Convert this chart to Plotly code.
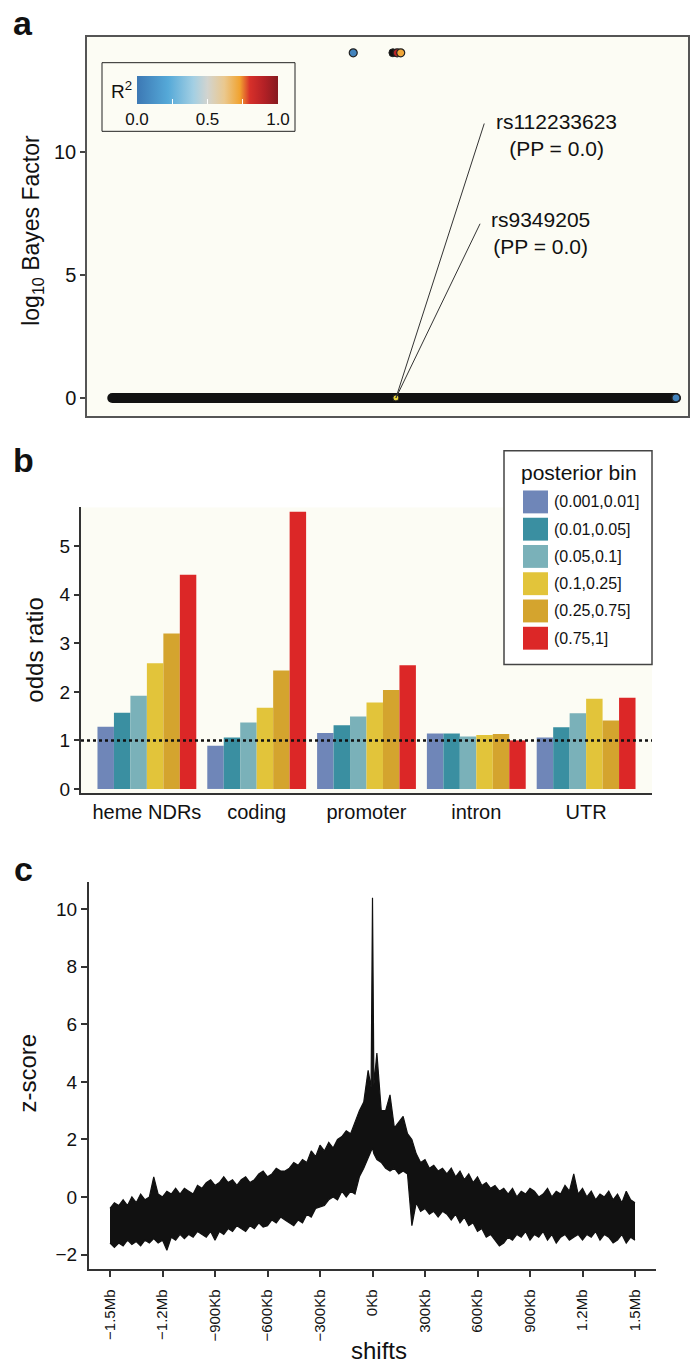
import plotly.graph_objects as go

W, H = 691, 1369
FONT = "Liberation Sans, Arial, Helvetica, sans-serif"
INK = "#111111"
CREAM = "#FCFCF4"

# ---------------- panel a: fine-mapping Bayes factors ----------------
snp_pos = [44.3, 51.6, 52.2, 98.0]
snp_log10_bf = [14.05, 14.05, 14.05, 0.0]
snp_r2 = [0.05, 0.88, 0.72, 0.05]
na_pos = [50.9]
na_log10_bf = [14.05]
background_span = [4.2, 98.0]
background_log10_bf = [0.0, 0.0]
index_pos = 51.4
index_log10_bf = 0.0
label_snps = ["rs112233623", "rs9349205"]
label_pp = [0.0, 0.0]

r2_scale = [[0.0, "#3C78B4"], [0.22, "#55A9D8"], [0.4, "#A3CFE3"],
            [0.5, "#D2D4CF"], [0.62, "#EAC88E"], [0.73, "#F1A330"],
            [0.8, "#D7302A"], [0.9, "#B42126"], [1.0, "#861A20"]]

# ---------------- panel b: enrichment odds ratios ----------------
categories = ["heme NDRs", "coding", "promoter", "intron", "UTR"]
bin_labels = ["(0.001,0.01]", "(0.01,0.05]", "(0.05,0.1]",
              "(0.1,0.25]", "(0.25,0.75]", "(0.75,1]"]
bin_colors = ["#6F86B8", "#3A8FA1", "#7AB1B9", "#E2C43A", "#D4A42E", "#DC2727"]
or_bin1 = [1.28, 0.89, 1.15, 1.14, 1.06]
or_bin2 = [1.57, 1.06, 1.31, 1.14, 1.27]
or_bin3 = [1.92, 1.37, 1.49, 1.08, 1.56]
or_bin4 = [2.59, 1.67, 1.78, 1.11, 1.86]
or_bin5 = [3.20, 2.44, 2.04, 1.13, 1.41]
or_bin6 = [4.41, 5.71, 2.55, 1.00, 1.88]
odds_by_bin = [or_bin1, or_bin2, or_bin3, or_bin4, or_bin5, or_bin6]
reference_odds = 1.0

# ---------------- panel c: z-score of shifted overlaps ----------------
# shift grid (kb): 25 kb steps, with extra samples right around the origin
shift_kb = list(range(-1500, 0, 25)) + [-8, 0, 8] + list(range(25, 1501, 25))
z_low = [
    -1.6, -1.75, -1.6, -1.7, -1.5, -1.65, -1.55, -1.7, -1.5, -1.6,
    -1.45, -1.6, -1.5, -1.85, -1.4, -1.5, -1.3, -1.45, -1.3, -1.4,
    -1.2, -1.3, -1.4, -1.2, -1.5, -1.2, -1.3, -1.1, -1.2, -1.0,
    -1.1, -1.2, -1.0, -1.1, -0.9, -1.05, -1.0, -0.8, -0.9, -0.7,
    -0.8, -0.9, -1.0, -0.8, -0.9, -0.6, -0.7, -0.4, -0.35, -0.3,
    -0.1, 0.0, -0.1, 0.2, 0.0, 0.2, 0.1, 0.7, 1.0, 1.4,
    1.6, 1.7, 1.5,
    1.3, 1.2, 1.0, 0.9, 1.0, 0.8, 0.9, 0.8, -1.0, -0.2,
    -0.5, -0.4, -0.6, -0.5, -0.7, -0.5, -0.6, -0.8, -0.6, -0.9,
    -0.7, -1.0, -0.9, -1.2, -1.1, -1.4, -1.3, -1.5, -1.7, -1.6,
    -1.4, -1.5, -1.3, -1.4, -1.2, -1.5, -1.3, -1.4, -1.2, -1.5,
    -1.3, -1.6, -1.4, -1.3, -1.5, -1.4, -1.3, -1.5, -1.3, -1.4,
    -1.2, -1.5, -1.3, -1.4, -1.6, -1.5, -1.3, -1.6, -1.4, -1.5,
]
z_high = [
    -0.4, -0.2, -0.3, -0.1, -0.3, 0.0, -0.2, 0.1, -0.1, 0.0,
    0.7, 0.1, 0.0, 0.2, 0.1, 0.3, 0.1, 0.3, 0.2, 0.1,
    0.4, 0.3, 0.5, 0.6, 0.4, 0.5, 0.7, 0.5, 0.6, 0.4,
    0.6, 0.7, 0.5, 0.6, 0.8, 0.9, 0.7, 0.8, 1.0, 0.9,
    0.9, 1.0, 1.2, 1.1, 1.3, 1.2, 1.6, 1.4, 1.8, 1.6,
    1.9, 1.7, 2.0, 2.1, 2.3, 2.2, 2.6, 3.0, 3.3, 4.4,
    3.8, 10.4, 3.9,
    5.0, 3.0, 3.0, 3.55, 2.4, 2.6, 2.8, 2.2, 2.0, 1.5,
    1.2, 1.3, 1.0, 1.1, 0.9, 1.0, 0.8, 1.0, 0.7, 0.9,
    0.6, 0.8, 0.5, 0.7, 0.4, 0.5, 0.3, 0.4, 0.2, 0.3,
    0.1, 0.3, 0.0, 0.2, 0.1, 0.3, 0.2, 0.0, 0.1, 0.3,
    0.0, 0.2, 0.1, 0.4, 0.2, 0.8, 0.1, 0.3, 0.0, 0.2,
    -0.1, 0.1, 0.0, 0.2, -0.1, 0.1, -0.2, 0.2, -0.1, -0.2,
]
shift_ticks = [-1500, -1200, -900, -600, -300, 0, 300, 600, 900, 1200, 1500]
shift_tick_text = ["\u22121.5Mb", "\u22121.2Mb", "\u2212900Kb", "\u2212600Kb",
                   "\u2212300Kb", "0Kb", "300Kb", "600Kb", "900Kb",
                   "1.2Mb", "1.5Mb"]


def px(x):
    return x / W


def py(y):
    return 1 - y / H


def text_note(text, x, y, size, angle=0, xanchor="center", bold=False):
    return dict(text=f"<b>{text}</b>" if bold else text, x=px(x), y=py(y),
                xref="paper", yref="paper", xanchor=xanchor, yanchor="middle",
                textangle=angle, showarrow=False,
                font=dict(size=size, color=INK, family=FONT))


fig = go.Figure()

# panel a traces
fig.add_trace(go.Scatter(
    x=background_span, y=background_log10_bf, mode="lines+markers",
    line=dict(color=INK, width=10), marker=dict(color=INK, size=10),
    xaxis="x", yaxis="y", hoverinfo="skip", showlegend=False))
fig.add_trace(go.Scatter(
    x=na_pos, y=na_log10_bf, mode="markers",
    marker=dict(color=INK, size=8, line=dict(color="#222", width=1)),
    xaxis="x", yaxis="y", showlegend=False))
fig.add_trace(go.Scatter(
    x=snp_pos, y=snp_log10_bf, mode="markers",
    marker=dict(color=snp_r2, coloraxis="coloraxis", size=8,
                line=dict(color="#222", width=1.2)),
    xaxis="x", yaxis="y", showlegend=False))
fig.add_trace(go.Scatter(
    x=[index_pos], y=[index_log10_bf], mode="markers",
    marker=dict(color="#E8D43A", size=6, line=dict(color="#222", width=1)),
    xaxis="x", yaxis="y", showlegend=False))

# panel b bars
for name, color, vals in zip(bin_labels, bin_colors, odds_by_bin):
    fig.add_trace(go.Bar(
        x=categories, y=vals, name=name, marker=dict(color=color, line=dict(width=0)),
        xaxis="x2", yaxis="y2", showlegend=False))

# panel c: band between the low and high z-score traces
fig.add_trace(go.Scatter(
    x=shift_kb, y=z_low, mode="lines", line=dict(color=INK, width=1.2),
    xaxis="x3", yaxis="y3", showlegend=False, hoverinfo="skip"))
fig.add_trace(go.Scatter(
    x=shift_kb, y=z_high, mode="lines", line=dict(color=INK, width=1.2),
    fill="tonexty", fillcolor=INK,
    xaxis="x3", yaxis="y3", showlegend=False, hoverinfo="skip"))

shapes = []
annotations = []

# panel backgrounds
shapes.append(dict(type="rect", xref="x domain", yref="y domain", x0=0, x1=1, y0=0, y1=1,
                   fillcolor=CREAM, line=dict(width=0), layer="below"))
shapes.append(dict(type="rect", xref="x2 domain", yref="y2 domain", x0=0, x1=1, y0=0, y1=1,
                   fillcolor=CREAM, line=dict(width=0), layer="below"))

# panel a: R² key box
shapes.append(dict(type="rect", xref="paper", yref="paper",
                   x0=px(102), x1=px(295), y0=py(132), y1=py(63),
                   fillcolor=CREAM, line=dict(color="#222", width=1), layer="above"))
annotations.append(text_note("R<sup>2</sup>", 121, 90, 19))

# panel a: SNP labels with leader lines
label_anchor = [(66.1, 11.17), (65.4, 7.09)]
label_text_pos = [(78.2, 10.69), (75.4, 6.72)]
for snp, pp, (ax_, ay_), (tx, ty) in zip(label_snps, label_pp, label_anchor, label_text_pos):
    shapes.append(dict(type="line", xref="x", yref="y", x0=index_pos, y0=index_log10_bf,
                       x1=ax_, y1=ay_, line=dict(color="#333", width=1)))
    annotations.append(dict(text=f"{snp}<br>(PP = {pp:.1f})", x=tx, y=ty, xref="x", yref="y",
                            xanchor="center", yanchor="middle",
                            showarrow=False, align="center",
                            font=dict(size=21, color=INK, family=FONT)))

# panel b: dotted reference line
shapes.append(dict(type="line", xref="x2 domain", yref="y2", x0=0, x1=1,
                   y0=reference_odds, y1=reference_odds,
                   line=dict(color=INK, width=2.5, dash="dot"), layer="above"))

# panel b: legend
shapes.append(dict(type="rect", xref="paper", yref="paper",
                   x0=px(504), x1=px(652), y0=py(668), y1=py(453),
                   fillcolor="white", line=dict(color="#444", width=1.5), layer="above"))
annotations.append(text_note("posterior bin", 579, 475, 21))
for i, (name, color) in enumerate(zip(bin_labels, bin_colors)):
    top = 493 + 27.4 * i
    shapes.append(dict(type="rect", xref="paper", yref="paper",
                       x0=px(523), x1=px(548), y0=py(top + 23), y1=py(top),
                       fillcolor=color, line=dict(width=0), layer="above"))
    annotations.append(text_note(name, 552, top + 11.5, 16, xanchor="left"))

# axis titles and panel letters
annotations += [
    text_note("log<sub>10</sub> Bayes Factor", 33, 232, 23, angle=-90),
    text_note("odds ratio", 35, 654, 24, angle=-90),
    text_note("z-score", 27, 1078, 24, angle=-90),
    text_note("shifts", 379, 1357, 24),
    text_note("a", 23, 23, 34, bold=True),
    text_note("b", 23, 462, 34, bold=True),
    text_note("c", 23, 873, 34, bold=True),
]

axis_common = dict(showgrid=False, zeroline=False, fixedrange=True)

fig.update_layout(
    width=W, height=H, margin=dict(l=0, r=0, t=0, b=0),
    paper_bgcolor="white", plot_bgcolor="white",
    font=dict(family=FONT, color=INK),
    barmode="group", bargap=0.1, bargroupgap=0,
    coloraxis=dict(
        colorscale=r2_scale, cmin=0, cmax=1,
        colorbar=dict(orientation="h", x=px(207.5), xanchor="center",
                      y=py(76), yanchor="top", len=141 / W, lenmode="fraction",
                      thickness=28, thicknessmode="pixels", xpad=0, ypad=0,
                      outlinewidth=0, tickvals=[0, 0.25, 0.5, 0.75, 1.0],
                      ticktext=["0.0", "", "0.5", "", "1.0"], ticks="inside",
                      ticklen=5, tickcolor="white", tickwidth=1,
                      tickfont=dict(size=17, color=INK, family=FONT))),
    xaxis=dict(domain=[px(87), px(688)], range=[0, 100], showticklabels=False, ticks="",
               showline=True, mirror=True, linecolor="#555", linewidth=1.5,
               anchor="y", **axis_common),
    yaxis=dict(domain=[py(418), py(37)], range=[-0.73, 14.70], tickvals=[0, 5, 10],
               ticks="outside", ticklen=5, tickwidth=1.5, tickcolor="#444",
               tickfont=dict(size=20), showline=True, mirror=True,
               linecolor="#555", linewidth=1.5, anchor="x", **axis_common),
    xaxis2=dict(domain=[px(81), px(652)], type="category", range=[-0.6, 4.6],
                ticks="", tickfont=dict(size=20), showline=True, linecolor="#333",
                linewidth=2, anchor="y2", **axis_common),
    yaxis2=dict(domain=[py(797), py(510)], range=[-0.082, 5.80], tickvals=[0, 1, 2, 3, 4, 5],
                ticks="outside", ticklen=5, tickwidth=1.5, tickcolor="#333",
                tickfont=dict(size=19), showline=True, linecolor="#333", linewidth=2,
                anchor="x2", **axis_common),
    xaxis3=dict(domain=[px(89), px(656)], range=[-1620, 1620], tickvals=shift_ticks,
                ticktext=shift_tick_text, tickangle=-90, ticks="outside", ticklen=6,
                tickwidth=1.5, tickcolor="#333", tickfont=dict(size=15, color=INK),
                ticklabelstandoff=6,
                showline=True, linecolor="#333", linewidth=2, anchor="y3", **axis_common),
    yaxis3=dict(domain=[py(1276), py(887)], range=[-2.52, 10.93],
                tickvals=[-2, 0, 2, 4, 6, 8, 10],
                ticktext=["\u22122", "0", "2", "4", "6", "8", "10"],
                ticks="outside", ticklen=6, tickwidth=1.5, tickcolor="#333",
                tickfont=dict(size=19), showline=True, linecolor="#333", linewidth=2,
                anchor="x3", **axis_common),
    shapes=shapes,
    annotations=annotations,
)

fig.write_html("out.html")
